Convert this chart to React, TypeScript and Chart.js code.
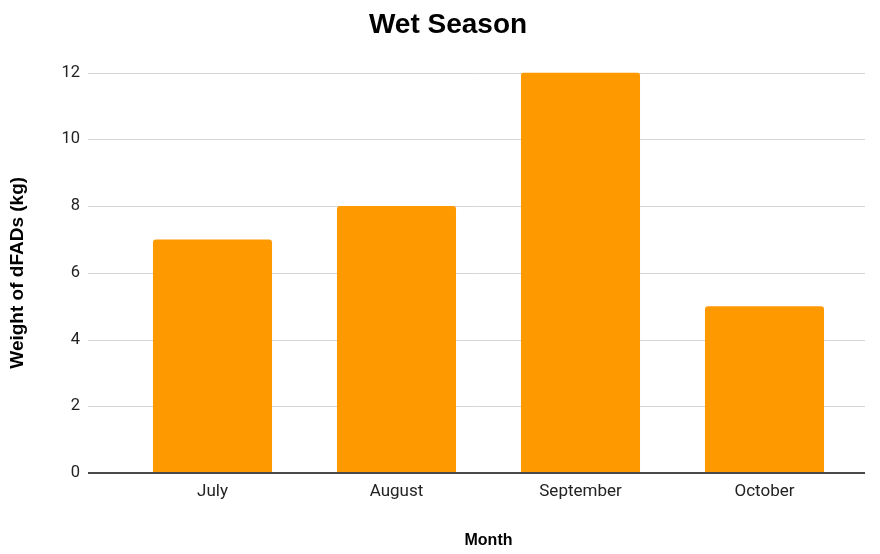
import React, { useEffect, useRef } from "react";
import { Chart, registerables } from "chart.js";

Chart.register(...registerables);

const months = ["July", "August", "September", "October"];
const weightKg = [7, 8, 12, 5];
const yTicks = [0, 2, 4, 6, 8, 10, 12];

const chartTitle = "Wet Season";
const xTitle = "Month";
const yTitle = "Weight of dFADs (kg)";

const TICK_FONT = "Roboto, 'Liberation Sans', Arial, sans-serif";
const TITLE_FONT = "'Liberation Sans', Arial, Helvetica, sans-serif";

// Horizontal rules run a little past the plotted categories on both sides.
const RULE_OVERHANG_LEFT = 32.5;
const RULE_OVERHANG_RIGHT = 8.5;
const RULE_COLOR = "#d6d6d6";
const BASELINE_COLOR = "#4a4a4a";

const extendedRules = {
  id: "extendedRules",
  beforeDatasetsDraw(chart: any) {
    const { ctx, chartArea, scales } = chart;
    const y = scales.y;
    const x0 = chartArea.left - RULE_OVERHANG_LEFT;
    const x1 = chartArea.right + RULE_OVERHANG_RIGHT;
    ctx.save();
    ctx.strokeStyle = RULE_COLOR;
    ctx.lineWidth = 1;
    y.ticks.forEach((t: any) => {
      if (t.value === 0) return;
      const py = Math.round(y.getPixelForValue(t.value)) + 0.5;
      ctx.beginPath();
      ctx.moveTo(x0, py);
      ctx.lineTo(x1, py);
      ctx.stroke();
    });
    ctx.restore();
  },
  afterDatasetsDraw(chart: any) {
    const { ctx, chartArea, scales } = chart;
    const py = scales.y.getPixelForValue(0);
    ctx.save();
    ctx.strokeStyle = BASELINE_COLOR;
    ctx.lineWidth = 2;
    ctx.beginPath();
    ctx.moveTo(chartArea.left - RULE_OVERHANG_LEFT, py);
    ctx.lineTo(chartArea.right + RULE_OVERHANG_RIGHT, py);
    ctx.stroke();
    ctx.restore();
  },
};

export default function App() {
  const canvasRef = useRef<HTMLCanvasElement | null>(null);

  useEffect(() => {
    if (!canvasRef.current) return;
    const chart = new Chart(canvasRef.current, {
      type: "bar",
      data: {
        labels: months,
        datasets: [
          {
            label: "Weight",
            data: weightKg,
            backgroundColor: "#ff9900",
            borderRadius: 3,
            borderSkipped: "start",
            barPercentage: 0.647,
            categoryPercentage: 1,
          },
        ],
      },
      plugins: [extendedRules],
      options: {
        responsive: true,
        maintainAspectRatio: false,
        animation: false,
        devicePixelRatio: 1,
        layout: { padding: { left: 39.5, right: 23.5, top: 0, bottom: 0 } },
        plugins: {
          legend: { display: false },
          tooltip: { enabled: false },
          title: {
            display: true,
            text: chartTitle,
            color: "#000",
            font: { family: TITLE_FONT, size: 28, weight: "bold" },
            padding: { top: 8, bottom: 31 },
          },
        },
        scales: {
          x: {
            grid: { display: false, drawTicks: false },
            border: { display: false },
            ticks: {
              color: "#222",
              padding: 9,
              font: { family: TICK_FONT, size: 17 },
            },
            title: {
              display: true,
              text: xTitle,
              color: "#000",
              font: { family: TITLE_FONT, size: 16, weight: "bold" },
              padding: { top: 0, bottom: 4 },
            },
            afterFit: (scale: any) => {
              scale.height = 81;
            },
          },
          y: {
            min: 0,
            max: 12,
            afterBuildTicks: (scale: any) => {
              scale.ticks = yTicks.map((v) => ({ value: v }));
            },
            grid: { display: false, drawTicks: false },
            border: { display: false },
            ticks: {
              color: "#222",
              padding: 40.5,
              font: { family: TICK_FONT, size: 16.5 },
            },
            title: {
              display: true,
              text: yTitle,
              color: "#000",
              font: { family: TITLE_FONT, size: 19, weight: "bold" },
              padding: { top: -32.9, bottom: 0 },
            },
            afterFit: (scale: any) => {
              scale.width = 81;
            },
          },
        },
      },
    });
    return () => chart.destroy();
  }, []);

  return (
    <div style={{ position: "absolute", left: 0, top: 0, width: 880, height: 554, background: "#fff" }}>
      <canvas ref={canvasRef} />
    </div>
  );
}
